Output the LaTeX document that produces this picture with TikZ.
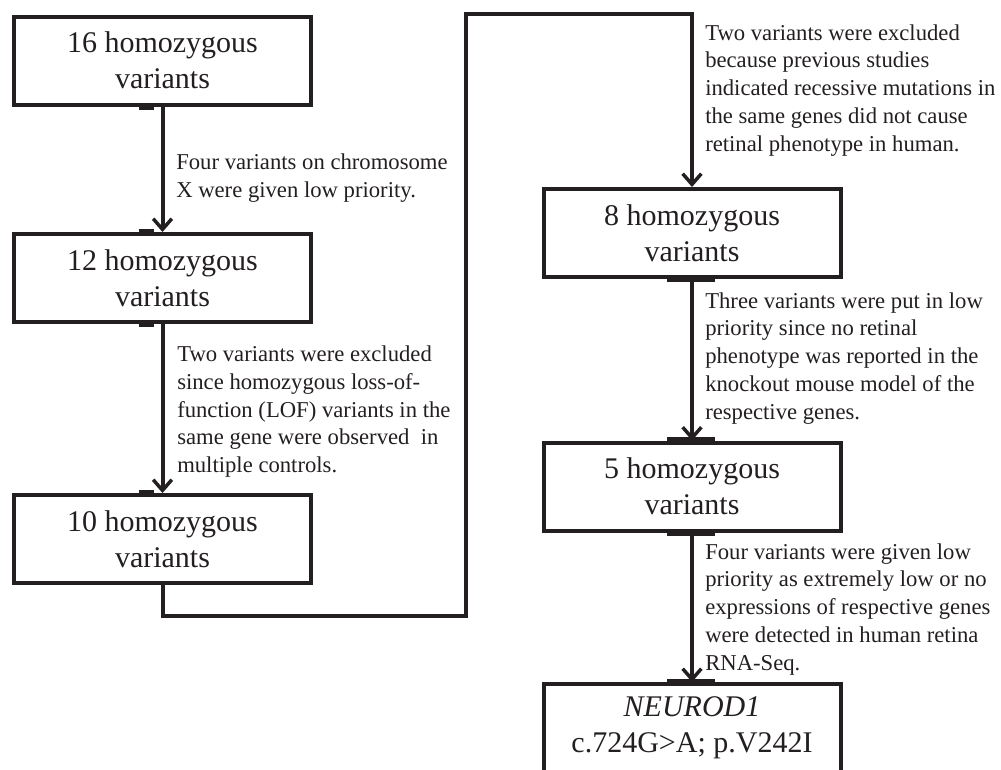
\documentclass[tikz,border=0pt]{standalone}
\usepackage{fontspec}
\setmainfont{Liberation Serif}
\usepackage{tikz}
\usetikzlibrary{arrows.meta}
\definecolor{ink}{RGB}{35,31,32}

\begin{document}
\begin{tikzpicture}[x=0.75pt,y=-0.75pt,-,
    main box/.style={rectangle,draw=ink,line width=3pt,minimum width=222.75pt,minimum height=66pt,
                     inner sep=0pt,align=center,text=ink,font=\fontsize{22.5}{27}\selectfont},
    note text/.style={anchor=base west,align=left,inner sep=0pt,text=ink,font=\fontsize{17}{20.8}\selectfont},
    flow arrow/.style={draw=ink,line width=3pt,-{Straight Barb[length=8pt,width=14pt,line width=2.6pt]}},
    glue mark/.style={draw=ink,line width=4.6pt}]

  \useasboundingbox (0,0) rectangle (1001,769);
  \clip (0,0) rectangle (1001,769);

  \node[main box] (v16)  at (162.5,60.5) {16 homozygous\\variants};
  \node[main box] (v12)  at (162.5,278)  {12 homozygous\\variants};
  \node[main box] (v10)  at (162.5,539)  {10 homozygous\\variants};
  \node[main box] (v8)   at (692,233)    {8 homozygous\\variants};
  \node[main box] (v5)   at (692,486.5)  {5 homozygous\\variants};
  \node[main box] (gene) at (692,728)    {\textit{NEUROD1}\\c.724G>A; p.V242I};

  % notes sit on the baseline of their last line
  \node[note text] (n1) at (176,197.5) {Four variants on chromosome\\X were given low priority.};
  \node[note text] (n2) at (177,472.5) {Two variants were excluded\\since homozygous loss-of-\\function (LOF) variants in the\\same gene were observed~ in\\multiple controls.};
  \node[note text] (n3) at (705,151)   {Two variants were excluded\\because previous studies\\indicated recessive mutations in\\the same genes did not cause\\retinal phenotype in human.};
  \node[note text] (n4) at (705,419)   {Three variants were put in low\\priority since no retinal\\phenotype was reported in the\\knockout mouse model of the\\respective genes.};
  \node[note text] (n5) at (705,670)   {Four variants were given low\\priority as extremely low or no\\expressions of respective genes\\were detected in human retina\\RNA-Seq.};

  \path[flow arrow]
    (v16) edge (v12)
    (v12) edge (v10)
    (v8)  edge (v5)
    (v5)  edge (gene);

  % loop from the left column over to the right one
  \coordinate (low)  at (466,616);
  \coordinate (high) at (466,14);
  \draw[flow arrow] (v10.south) |- (low) -- (high) -| (v8.north);

  \foreach \b in {v16.south,v12.north,v12.south,v10.north}
    \draw[glue mark] (\b) ++(-24,0) -- ++(15,0);
  \foreach \b in {v8.south,v5.north,v5.south,gene.north}
    \draw[glue mark] (\b) ++(-25,0) -- ++(48,0);

\end{tikzpicture}
\end{document}
